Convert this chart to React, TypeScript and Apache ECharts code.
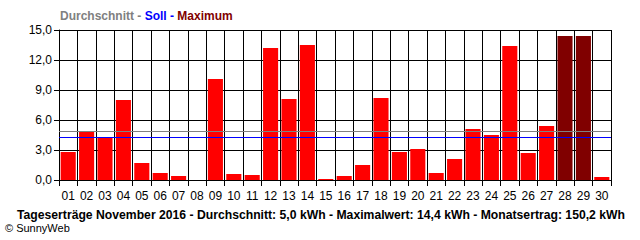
import React, { useEffect, useRef } from "react";
import * as echarts from "echarts";

const days = ["01","02","03","04","05","06","07","08","09","10","11","12","13","14","15","16","17","18","19","20","21","22","23","24","25","26","27","28","29","30"];
const yields = [2.8,4.8,4.3,8.0,1.7,0.7,0.4,0.0,10.1,0.6,0.5,13.2,8.1,13.5,0.1,0.4,1.5,8.2,2.8,3.1,0.7,2.1,5.1,4.5,13.4,2.7,5.4,14.4,14.4,0.3];
const maxDays = ["28","29"];
const averageValue = 4.9;
const targetValue = 4.3;
const footerText = "Tageserträge November 2016 - Durchschnitt: 5,0 kWh - Maximalwert: 14,4 kWh - Monatsertrag: 150,2 kWh";

export default function App() {
  const ref = useRef<HTMLDivElement>(null);
  useEffect(() => {
    const chart = echarts.init(ref.current!, undefined, { renderer: "svg" });
    const font = "Liberation Sans";
    const tf = 12;
    chart.setOption({
      animation: false,
      backgroundColor: "#ffffff",
      textStyle: { fontFamily: font },
      graphic: [
        {
          type: "text",
          left: 60,
          top: 10,
          style: {
            text: "{a|Durchschnitt -} {b|Soll -} {c|Maximum}",
            fontFamily: font,
            fontSize: tf,
            fontWeight: "bold",
            rich: {
              a: { fill: "#808080", fontWeight: "bold", fontSize: tf, fontFamily: font },
              b: { fill: "#0000ff", fontWeight: "bold", fontSize: tf, fontFamily: font },
              c: { fill: "#800000", fontWeight: "bold", fontSize: tf, fontFamily: font },
            },
          },
        },
        {
          type: "text",
          left: 17,
          top: 209,
          style: { text: footerText, fontFamily: font, fontSize: 12.2, fontWeight: "bold", fill: "#000" },
        },
        {
          type: "text",
          left: 5,
          top: 222,
          style: { text: "© SunnyWeb", fontFamily: font, fontSize: 11, fill: "#000" },
        },
      ],
      grid: { left: 59, right: 29, top: 30, bottom: 60 },
      xAxis: {
        type: "category",
        data: days,
        boundaryGap: true,
        axisLine: { show: true, lineStyle: { color: "#000", width: 1 } },
        axisTick: { show: true, length: 6, lineStyle: { color: "#000" } },
        axisLabel: { color: "#000", fontSize: 12, fontFamily: font, margin: 10 },
        splitLine: { show: true, lineStyle: { color: "#000", width: 1 } },
      },
      yAxis: {
        type: "value",
        min: 0,
        max: 15,
        interval: 3,
        axisLine: { show: true, lineStyle: { color: "#000", width: 1 } },
        axisTick: { show: true, length: 5, lineStyle: { color: "#000" } },
        axisLabel: {
          color: "#000",
          fontSize: 12,
          fontFamily: font,
          margin: 7,
          formatter: (v: number) => v.toFixed(1).replace(".", ","),
        },
        splitLine: { show: true, lineStyle: { color: "#000", width: 1 } },
      },
      series: [
        {
          type: "bar",
          barCategoryGap: "18%",
          data: yields.map((v, i) => ({
            value: v,
            itemStyle: { color: maxDays.includes(days[i]) ? "#800000" : "#ff0000" },
          })),
          markLine: {
            symbol: "none",
            silent: true,
            label: { show: false },
            data: [
              { yAxis: averageValue, lineStyle: { color: "#808080", width: 1, type: "solid" } },
              { yAxis: targetValue, lineStyle: { color: "#0000ff", width: 1, type: "solid" } },
            ],
          },
        },
      ],
    });
    return () => chart.dispose();
  }, []);
  return <div ref={ref} style={{ position: "fixed", left: 0, top: 0, width: 640, height: 240 }} />;
}
